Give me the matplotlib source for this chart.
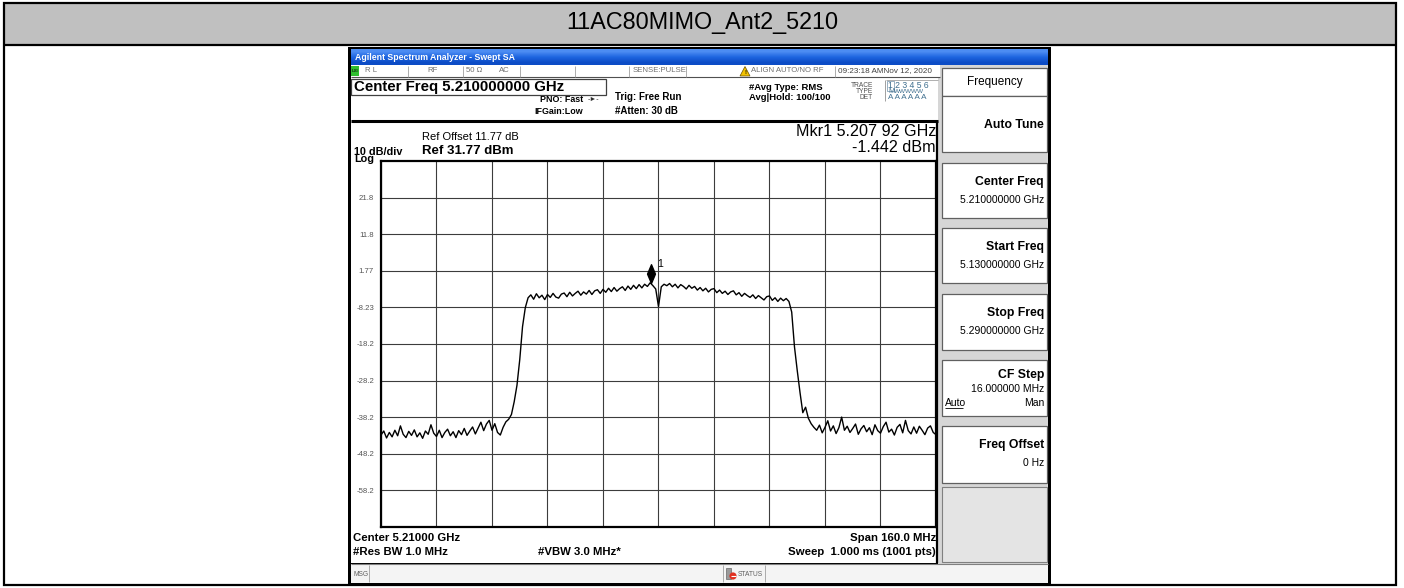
import numpy as np
import matplotlib
matplotlib.use("Agg")
import matplotlib.pyplot as plt
from matplotlib.patches import Rectangle, Polygon
from matplotlib.path import Path

plt.rcParams['font.family'] = ['Liberation Sans', 'DejaVu Sans']

# ---- sweep settings ----
title = "11AC80MIMO_Ant2_5210"
start_ghz = 5.130
stop_ghz = 5.290
ref_level = 31.77
db_per_div = 10
n_div = 10

# ---- trace (dBm), 0.8 MHz steps from start to stop ----
noise_left = [-43.1, -42.0, -43.9, -42.4, -43.6, -41.8, -43.3, -40.6, -42.9, -43.8,
              -42.1, -43.2, -41.7, -43.6, -42.5, -44.0, -42.0, -42.9, -40.3, -42.6,
              -43.5, -41.8, -43.8, -42.4, -41.5, -43.3, -42.2, -43.8, -41.9, -43.0,
              -41.3, -43.2, -42.0, -40.9, -42.8, -41.2, -39.6, -41.9, -40.1, -39.1,
              -41.8, -40.0, -42.4, -43.1]
edge_rise = [-41.0, -39.5, -38.8, -37.5, -34.0, -29.5, -22.5, -13.5, -8.3, -5.6]
plateau_low = [-4.8, -6.0, -4.5, -5.6, -4.9, -6.1, -4.7, -5.5, -4.4, -5.4,
               -5.7, -4.6, -4.3, -5.3, -4.1, -5.1, -4.4, -3.8, -4.9, -4.0,
               -4.6, -3.6, -4.7, -3.7, -3.4, -4.4, -3.3, -4.1, -3.0, -3.9,
               -2.8, -3.8, -3.1, -2.6, -3.6, -2.4, -3.3, -2.2, -3.1, -2.0,
               -2.9, -1.9, -2.5]
center_dip = [-1.5, -2.3, -3.2, -8.0, -2.6, -1.9]
plateau_high = [-2.3, -1.7, -2.6, -1.9, -2.9, -2.0, -2.5, -3.2, -2.2, -3.0,
                -2.5, -3.5, -2.8, -3.7, -3.0, -4.0, -3.3, -3.1, -4.2, -3.5,
                -4.4, -3.8, -4.7, -4.0, -3.7, -4.8, -4.2, -5.2, -4.4, -5.0,
                -5.5, -4.8, -5.8, -5.0, -5.6, -6.2, -5.3, -5.1, -6.3, -5.6,
                -6.6, -5.7, -6.4, -5.8, -6.6]
edge_fall = [-9.5, -19.0, -25.5, -31.5, -37.0, -35.5, -38.5, -40.0, -41.0]
noise_right = [-41.8, -40.4, -42.5, -41.0, -39.2, -42.0, -40.6, -42.7, -41.1, -38.2,
               -41.8, -40.7, -42.4, -41.3, -40.1, -42.9, -41.4, -40.5, -42.2, -41.1,
               -43.0, -40.3, -41.9, -42.6, -40.8, -39.6, -42.3, -41.5, -43.1, -41.0,
               -40.2, -42.5, -39.1, -41.9, -42.8, -40.9, -42.6, -40.7, -41.8, -43.0,
               -41.2, -40.6, -42.4, -43.0]

marker_freq = 5.20792
marker_level = -1.442

level_labels = ["21.8", "11.8", "1.77", "-8.23", "-18.2", "-28.2", "-38.2", "-48.2", "-58.2"]

softkey_labels = ["Auto Tune", "Center Freq", "Start Freq", "Stop Freq", "CF Step", "Freq Offset"]
softkey_values = ["", "5.210000000 GHz", "5.130000000 GHz", "5.290000000 GHz", "16.000000 MHz", "0 Hz"]

trace = np.array(noise_left + edge_rise + plateau_low + center_dip +
                 plateau_high + edge_fall + noise_right)
freq = np.linspace(start_ghz, stop_ghz, len(trace))

W, H = 1404, 588
fig = plt.figure(figsize=(W / 100, H / 100), dpi=100)
fig.patch.set_facecolor("white")

# Canvas axes in pixel units (y grows downward)
cv = fig.add_axes([0, 0, 1, 1])
cv.set_xlim(0, W)
cv.set_ylim(H, 0)
cv.axis("off")


def box(x0, y0, x1, y1, fc="white", ec="none", lw=0.8, z=1):
    cv.add_patch(Rectangle((x0, y0), x1 - x0, y1 - y0, facecolor=fc,
                           edgecolor=ec, linewidth=lw, zorder=z))


def txt(x, y, s, size, ha="left", weight="normal", color="black", z=5):
    cv.text(x, y, s, fontsize=size, ha=ha, va="center", fontweight=weight,
            color=color, zorder=z)


def hline(y, x0, x1, color="black", lw=1.0, z=3):
    cv.plot([x0, x1], [y, y], color=color, linewidth=lw, zorder=z,
            solid_capstyle="butt")


def vline(x, y0, y1, color="black", lw=1.0, z=3):
    cv.plot([x, x], [y0, y1], color=color, linewidth=lw, zorder=z,
            solid_capstyle="butt")


# ---- outer table with title band ----
box(4, 3, 1396, 45, fc="#c0c0c0", z=0)
box(4, 3, 1396, 585, fc="none", ec="black", lw=1.6, z=2)
hline(45, 4, 1396, lw=1.6)
txt(702, 22, title, 16.8, ha="center")

# ---- instrument screen ----
box(348, 47, 1051, 586, fc="black", z=1)

# title bar with vertical gradient
grad = np.array([[[0.30, 0.55, 0.95]], [[0.12, 0.40, 0.88]], [[0.05, 0.30, 0.78]]])
cv.imshow(grad, extent=(351, 1048, 65, 49), aspect="auto", interpolation="bilinear",
          zorder=2)
txt(355, 57, "Agilent Spectrum Analyzer - Swept SA", 6.3, weight="bold", color="white")

# right panel background
box(938, 65, 1048, 564, fc="#d6d6d6", z=2)

# status row
box(351, 65, 940, 77, fc="white", z=2)
hline(77, 351, 940, color="#505050", lw=0.8)
for sx in [408, 463, 520, 575, 629, 686, 835]:
    vline(sx, 65.5, 76.5, color="#a0a0a0", lw=0.6)
box(351, 66, 359, 76, fc="#2fbf2f", z=3)
txt(355, 71, "LXI", 3.2, ha="center", weight="bold", color="#103010")
st_gray = "#707070"
txt(365, 71, "R L", 5.6, color=st_gray)
txt(433, 71, "RF", 5.6, ha="center", color=st_gray)
txt(466, 71, "50 Ω", 5.6, color=st_gray)
txt(499, 71, "AC", 5.6, color=st_gray)
txt(633, 71, "SENSE:PULSE", 5.6, color=st_gray)
cv.add_patch(Polygon([[740, 76], [750, 76], [745, 66.5]], closed=True,
                     facecolor="#f2c200", edgecolor="#6a5000", linewidth=0.5, zorder=4))
txt(745, 72.5, "!", 4.5, ha="center", weight="bold", color="black")
txt(751, 71, "ALIGN AUTO/NO RF", 5.6, color=st_gray)
txt(838, 71, "09:23:18 AMNov 12, 2020", 5.9, color="#404040")

# header area
box(351, 77, 938, 120, fc="white", z=2)
box(351, 79, 606, 94.5, fc="white", ec="#404040", lw=0.9, z=3)
txt(354, 87, "Center Freq 5.210000000 GHz", 10.8, weight="bold")
txt(583, 99.5, "PNO: Fast", 6.4, ha="right", weight="bold")
txt(583, 112, "IFGain:Low", 6.4, ha="right", weight="bold")
txt(588, 99.5, "-►-", 5, color="#303030")
txt(615, 97.5, "Trig: Free Run", 7, weight="bold")
txt(615, 111, "#Atten: 30 dB", 7, weight="bold")
txt(749, 88, "#Avg Type: RMS", 6.8, weight="bold")
txt(749, 97.5, "Avg|Hold: 100/100", 6.8, weight="bold")
txt(873, 85.5, "TRACE", 4.8, ha="right", color="#505050")
txt(873, 91.5, "TYPE", 4.8, ha="right", color="#505050")
txt(873, 97.5, "DET", 4.8, ha="right", color="#505050")
vline(885, 80, 101, color="#909090", lw=0.6)
txt(888, 85.5, "1 2 3 4 5 6", 6.2, color="#3f6f8f")
box(886.5, 80.5, 894, 90.5, fc="none", ec="#7090a8", lw=0.5, z=4)
hline(80, 886, 938, color="#909090", lw=0.5)
txt(888, 91.8, "M", 5.2, color="#3f6f8f")
txt(894, 91.8, "WWWWW", 4.6, color="#3f6f8f")
txt(888, 97.5, "A A A A A A", 5.8, color="#3f6f8f")

# plot panel
box(351, 120, 938, 563, fc="white", z=2)
hline(121, 351, 938, lw=2.2)
txt(422, 137, "Ref Offset 11.77 dB", 8)
txt(422, 151, "Ref 31.77 dBm", 9.5, weight="bold")
txt(354, 152, "10 dB/div", 7.8, weight="bold")
txt(354, 159.5, "Log", 7.8, weight="bold")
txt(936, 132, "Mkr1 5.207 92 GHz", 11.6, ha="right")
txt(936, 147, "-1.442 dBm", 11.6, ha="right")
txt(353, 538, "Center 5.21000 GHz", 8.2, weight="bold")
txt(353, 552, "#Res BW 1.0 MHz", 8.2, weight="bold")
txt(538, 552, "#VBW 3.0 MHz*", 8.2, weight="bold")
txt(936, 538, "Span 160.0 MHz", 8.2, ha="right", weight="bold")
txt(936, 552, "Sweep  1.000 ms (1001 pts)", 8.2, ha="right", weight="bold")
vline(937, 121, 563, lw=1.6)

# message bar
box(351, 564, 1048, 583, fc="#f4f4f4", z=2)
hline(564, 351, 1048, color="#808080", lw=0.8)
for sx in [369, 723, 765]:
    vline(sx, 565, 582, color="#a0a0a0", lw=0.6)
txt(353, 574, "MSG", 4.8, color="#606060")
box(726, 568, 731, 579, fc="#9a9a9a", ec="#505050", lw=0.4, z=4)
cv.add_patch(plt.Circle((733, 576), 3.6, facecolor="#e03020", edgecolor="none", zorder=5))
hline(576, 730.5, 735.5, color="white", lw=0.8, z=6)
txt(738, 574, "STATUS", 4.8, color="#606060")

# softkey panel
box(942, 68, 1047, 95.5, fc="white", ec="#606060", lw=0.9, z=3)
txt(995, 82, "Frequency", 8.5, ha="center")
key_boxes = [(96, 152), (163, 218), (228, 283), (294, 350), (360, 416), (426, 483)]
for (y0, y1), lab, val in zip(key_boxes, softkey_labels, softkey_values):
    box(942, y0, 1047, y1, fc="white", ec="#606060", lw=0.9, z=3)
    if lab == "Auto Tune":
        txt(1044, 125.5, lab, 8.8, ha="right", weight="bold")
    elif lab == "CF Step":
        txt(1044, y0 + 15, lab, 8.8, ha="right", weight="bold")
        txt(1044, y0 + 29, val, 7.5, ha="right")
        txt(945, y0 + 43, "Auto", 7.5)
        hline(y0 + 48, 945, 963, lw=0.6, z=6)
        txt(1044, y0 + 43, "Man", 7.5, ha="right")
    else:
        txt(1044, y0 + 19, lab, 8.8, ha="right", weight="bold")
        txt(1044, y0 + 37, val, 7.5, ha="right")
box(942, 487, 1047, 562, fc="#e4e4e4", ec="#808080", lw=0.8, z=3)

# ---- spectrum graticule ----
gl, gr, gt, gb = 381, 936, 161, 527
ax = fig.add_axes([gl / W, 1 - gb / H, (gr - gl) / W, (gb - gt) / H])
ax.set_facecolor("white")
ax.set_zorder(10)
bottom_level = ref_level - db_per_div * n_div
ax.set_xlim(start_ghz, stop_ghz)
ax.set_ylim(bottom_level, ref_level)
ax.set_xticks(np.linspace(start_ghz, stop_ghz, n_div + 1))
ax.set_yticks([ref_level - db_per_div * k for k in range(1, n_div)])
ax.set_yticklabels(level_labels)
ax.tick_params(axis="x", length=0, labelbottom=False)
ax.tick_params(axis="y", length=0, pad=5, labelsize=5.6, labelcolor="#555555")
ax.grid(True, color="#3c3c3c", linewidth=0.8)
ax.set_axisbelow(True)
for sp in ax.spines.values():
    sp.set_linewidth(1.6)
    sp.set_color("black")

ax.plot(freq, trace, color="black", linewidth=1.0, zorder=3)

# marker 1 drawn as a diamond whose lower tip sits on the marked point
diamond = Path([(0, 0), (0.42, 1), (0, 2), (-0.42, 1), (0, 0)],
               [Path.MOVETO, Path.LINETO, Path.LINETO, Path.LINETO, Path.CLOSEPOLY])
ax.plot([marker_freq], [marker_level], marker=diamond, markersize=27,
        color="black", linestyle="none", zorder=5, clip_on=False)
ax.annotate("1", (marker_freq, marker_level), xytext=(4.5, 13.5),
            textcoords="offset points", fontsize=7.5, ha="left", va="center",
            annotation_clip=False, zorder=6)

cv.set_xlim(0, W)
cv.set_ylim(H, 0)
fig.savefig("out.png", dpi=100)
